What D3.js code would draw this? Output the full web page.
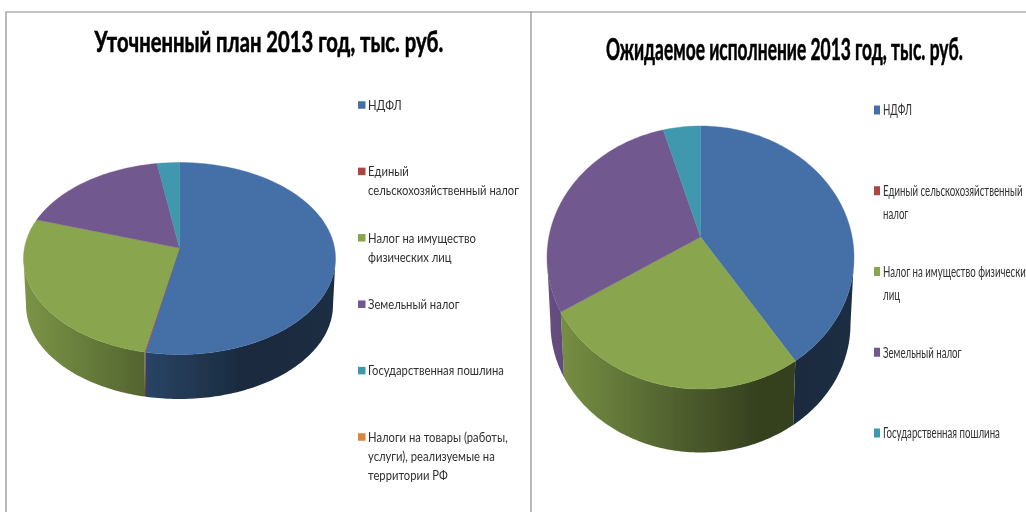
<!DOCTYPE html>
<html>
<head>
<meta charset="utf-8">
<script src="https://cdn.jsdelivr.net/npm/d3@7"></script>
<style>
  html, body { margin: 0; padding: 0; background: #fff; overflow: hidden; }
  svg { display: block; }
  text { font-family: Lato, "Noto Sans", sans-serif; fill: #303030; }
</style>
</head>
<body>
<div id="chart"></div>
<script>
const planTitle = "Уточненный план 2013 год, тыс. руб."
const planCategories = ["НДФЛ", "Единый сельскохозяйственный налог", "Налог на имущество физических лиц", "Земельный налог", "Государственная пошлина", "Налоги на товары (работы, услуги), реализуемые на территории РФ"]
const planValues = [53.5, 0.1, 28, 16.1, 2.3, 0]
const planLabels = [
  ["НДФЛ"],
  ["Единый", "сельскохозяйственный налог"],
  ["Налог на имущество", "физических лиц"],
  ["Земельный налог"],
  ["Государственная пошлина"],
  ["Налоги на товары (работы,", "услуги), реализуемые на", "территории РФ"],
]

const expectedTitle = "Ожидаемое исполнение 2013 год, тыс. руб."
const expectedCategories = ["НДФЛ", "Единый сельскохозяйственный налог", "Налог на имущество физических лиц", "Земельный налог", "Государственная пошлина"]
const expectedValues = [39.4, 0, 28.8, 27.9, 3.9]
const expectedLabels = [
  ["НДФЛ"],
  ["Единый сельскохозяйственный", "налог"],
  ["Налог на имущество физических", "лиц"],
  ["Земельный налог"],
  ["Государственная пошлина"],
]

const colors = ["#4570a7", "#aa4643", "#89a54e", "#71588f", "#4198af", "#db843d"]

const width = 1026
const height = 512

const svg = d3
  .select("#chart")
  .append("svg")
  .attr("width", width)
  .attr("height", height)

const defs = svg.append("defs")
defs.append("filter")
  .attr("id", "soft")
  .attr("x", "-5%").attr("y", "-5%").attr("width", "110%").attr("height", "110%")
  .append("feGaussianBlur")
  .attr("stdDeviation", 0.45)

const root = svg.append("g").attr("filter", "url(#soft)")

// panel frames
const frames = [
  { x: 6, y: 12 },
  { x: 531, y: 12 },
]
root.selectAll("path.frame")
  .data(frames)
  .join("path")
  .attr("class", "frame")
  .attr("fill", "none")
  .attr("stroke", "#8c8c8c")
  .attr("stroke-width", 1.2)
  .attr("d", d => `M${d.x},${height}V${d.y}H${d.x === 6 ? 531 : width}`)

// side shading, how much of the base colour is left across the pie width
const sideStops = [
  { at: 0, k: 0.9 },
  { at: 0.4, k: 0.6 },
  { at: 0.7, k: 0.38 },
  { at: 1, k: 0.4 },
]

function drawChart(cfg) {
  const color = d3.scaleOrdinal(cfg.categories, colors)
  const pie = d3.pie().sort(null).value(d => d.value)
  const slices = pie(cfg.categories.map((name, i) => ({ name, value: cfg.values[i] })))

  const topX = t => cfg.cx + cfg.rx * Math.sin(t)
  const topY = t => cfg.cy - cfg.ry * Math.cos(t)
  const botX = t => cfg.cx + cfg.rxBottom * Math.sin(t)
  const botY = t => cfg.cyBottom - cfg.ryBottom * Math.cos(t)
  const line = d3.line()

  const arcAngles = (a, b) => {
    const n = Math.max(2, Math.ceil((b - a) / 0.02))
    return d3.range(n + 1).map(i => a + ((b - a) * i) / n)
  }

  const g = root.append("g")

  // gradients for the rim
  cfg.categories.forEach((name, i) => {
    const grad = defs.append("linearGradient")
      .attr("id", `${cfg.id}-side-${i}`)
      .attr("gradientUnits", "userSpaceOnUse")
      .attr("x1", cfg.cx - cfg.rx)
      .attr("x2", cfg.cx + cfg.rx)
      .attr("y1", 0)
      .attr("y2", 0)
    const base = d3.rgb(color(name))
    sideStops.forEach(s => {
      grad.append("stop")
        .attr("offset", s.at)
        .attr("stop-color", d3.rgb(base.r * s.k, base.g * s.k, base.b * s.k).formatHex())
    })
  })

  // rim, only the part facing the viewer
  const front = slices
    .map((s, i) => ({
      i,
      a: Math.max(s.startAngle, Math.PI / 2),
      b: Math.min(s.endAngle, (3 * Math.PI) / 2),
    }))
    .filter(d => d.b > d.a)

  g.selectAll("path.side")
    .data(front)
    .join("path")
    .attr("class", "side")
    .attr("fill", d => `url(#${cfg.id}-side-${d.i})`)
    .attr("d", d => {
      const angles = arcAngles(d.a, d.b)
      const upper = angles.map(t => [topX(t), topY(t)])
      const lower = angles.slice().reverse().map(t => [botX(t), botY(t)])
      return line(upper.concat(lower)) + "Z"
    })

  // top face
  g.selectAll("path.slice")
    .data(slices.filter(s => s.value > 0))
    .join("path")
    .attr("class", "slice")
    .attr("fill", d => color(d.data.name))
    .attr("stroke", d => color(d.data.name))
    .attr("stroke-width", 0.4)
    .attr("d", d => {
      const rim = arcAngles(d.startAngle, d.endAngle).map(t => [topX(t), topY(t)])
      return line([[cfg.cx, cfg.apexY]].concat(rim)) + "Z"
    })

  // title, squeezed to the width it has in the picture
  const title = g.append("text")
    .attr("font-size", cfg.titleSize)
    .attr("font-weight", 700)
    .attr("stroke", "#000")
    .attr("stroke-width", 0.6)
    .style("fill", "#000")
    .text(cfg.title)
  const titleLen = title.node().getComputedTextLength()
  title.attr("transform", `translate(${cfg.titleX},${cfg.titleY}) scale(${cfg.titleWidth / titleLen},1)`)

  // legend
  const legendY = d3.scalePoint().domain(cfg.categories).range(cfg.legendRange)
  const entries = g.selectAll("g.entry")
    .data(cfg.categories)
    .join("g")
    .attr("class", "entry")
    .attr("transform", d => `translate(${cfg.legendX},${legendY(d)})`)

  entries.append("rect")
    .attr("x", -cfg.legendGap - cfg.markerW)
    .attr("y", -cfg.markerH / 2)
    .attr("width", cfg.markerW)
    .attr("height", cfg.markerH)
    .attr("fill", d => color(d))

  // one reference line sets the squeeze for the whole legend
  const probe = g.append("text").attr("font-size", cfg.legendSize).text(cfg.fitLine)
  const legendScale = cfg.fitWidth / probe.node().getComputedTextLength()
  probe.remove()

  entries.each(function (d, i) {
    d3.select(this)
      .selectAll("text")
      .data(cfg.labels[i])
      .join("text")
      .attr("font-size", cfg.legendSize)
      .attr("dominant-baseline", "central")
      .attr("transform", (t, j) => `translate(0,${j * cfg.lineHeight}) scale(${legendScale},1)`)
      .text(t => t)
  })
}

drawChart({
  id: "plan",
  title: planTitle,
  categories: planCategories,
  values: planValues,
  labels: planLabels,
  cx: 179.5, cy: 258.5, rx: 156, ry: 96, apexY: 248,
  cyBottom: 305, rxBottom: 153.5, ryBottom: 94,
  titleX: 94.5, titleY: 52, titleSize: 28, titleWidth: 349,
  legendX: 368, legendRange: [105, 437], lineHeight: 19,
  legendSize: 12.5, fitLine: "сельскохозяйственный налог", fitWidth: 151,
  legendGap: 2.5, markerW: 7.5, markerH: 7.5,
})

drawChart({
  id: "expected",
  title: expectedTitle,
  categories: expectedCategories,
  values: expectedValues,
  labels: expectedLabels,
  cx: 700.5, cy: 257.5, rx: 153.5, ry: 131.5, apexY: 237,
  cyBottom: 324, rxBottom: 150, ryBottom: 128.5,
  titleX: 606, titleY: 60, titleSize: 31, titleWidth: 357,
  legendX: 883, legendRange: [110, 433], lineHeight: 23,
  legendSize: 15, fitLine: "Единый сельскохозяйственный", fitWidth: 139.5,
  legendGap: 3, markerW: 6, markerH: 9,
})
</script>
</body>
</html>
